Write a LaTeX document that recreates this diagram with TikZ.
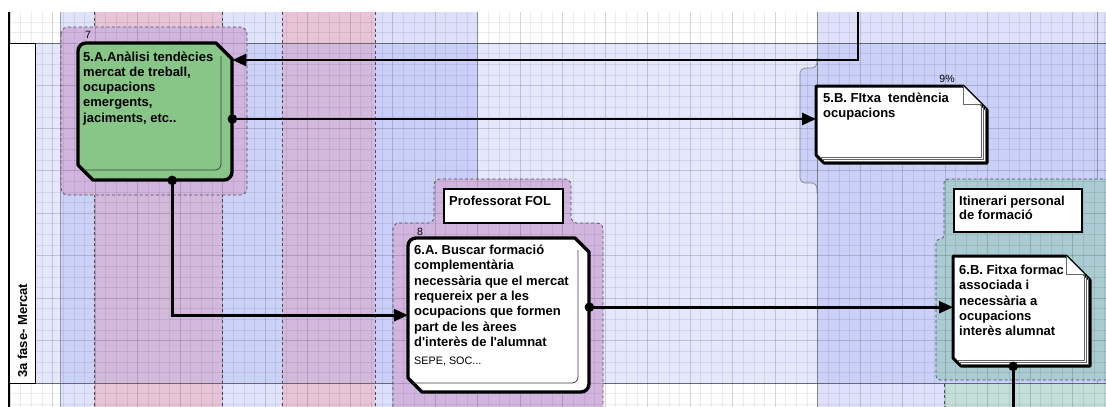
\documentclass[tikz,border=0pt]{standalone}
\usepackage{fontspec}
\setmainfont{Liberation Sans}
\newfontfamily\lsans{Liberation Sans}
\usetikzlibrary{arrows.meta,calc}
\definecolor{colLB}{HTML}{DFE3FB}
\definecolor{colPK}{HTML}{E8C4D8}
\definecolor{colB}{HTML}{DCE0FB}
\definecolor{colBB}{HTML}{DDE1FB}
\definecolor{laneBlue}{HTML}{7F8FF0}
\definecolor{grpPurple}{HTML}{D2B5DF}
\definecolor{grpTeal}{HTML}{A9CBD1}
\definecolor{tealLight}{HTML}{C4DED9}
\definecolor{boxGreen}{HTML}{87C687}
\definecolor{lineGray}{HTML}{7D7D8C}
\definecolor{dashGray}{HTML}{4D4D5A}
\begin{document}
\begin{tikzpicture}[x=1pt,y=-1pt,
  conn/.style={line width=2.6pt, black},
  arr/.style={-{Triangle[length=14pt,width=12pt]}},
  coldash/.style={dashGray, line width=0.7pt, dash pattern=on 3pt off 2.5pt},
  colline/.style={lineGray, line width=0.5pt, opacity=0.7},
  laneline/.style={lineGray, line width=0.8pt},
  grp/.style={dashGray, line width=0.7pt, dash pattern=on 3pt off 2.5pt},
  gminor/.style={black, opacity=0.075, line width=0.4pt},
  gmajor/.style={black, opacity=0.09, line width=0.5pt},
  actbox/.style={line width=3.4pt, black, line join=round},
  innerln/.style={line width=0.8pt, black!75, rounded corners=6pt},
  docbox/.style={line width=3pt, black, fill=white, line join=round},
  pageln/.style={line width=0.6pt, black!60},
  anchorbox/.style={inner sep=0pt, anchor=north west},
  boxtext/.style={anchor=base west, inner sep=0pt, font=\lsans\fontsize{13}{15.3}\selectfont\bfseries},
  smalltext/.style={inner sep=0pt, font=\lsans\fontsize{10.5}{12}\selectfont},
  lblbox/.style={draw=black, line width=2.2pt, fill=white, inner sep=0pt, anchor=north west}
]
\useasboundingbox (0,0) rectangle (1106,407);
% ---------- background columns ----------
\fill[white] (0,0) rectangle (1106,407);
\fill[colLB] (60,12) rectangle (94,407);
\fill[colPK] (94,12) rectangle (222,407);
\fill[colLB] (222,12) rectangle (282,407);
\fill[colPK] (282,12) rectangle (375,407);
\fill[colB] (375,12) rectangle (477,407);
\fill[colBB] (817,12) rectangle (1106,407);
% lane tint
\fill[laneBlue, opacity=0.2] (9,43) rectangle (1106,383);
% bulge of group 5.B
\fill[colBB, rounded corners=5pt] (817,58) -- (817,68) -- (800,68) -- (800,183) -- (817,183) -- (817,193) -- cycle;
\fill[laneBlue, opacity=0.2, rounded corners=5pt] (817,58) -- (817,68) -- (800,68) -- (800,183) -- (817,183) -- (817,193) -- cycle;
\draw[lineGray, line width=0.6pt, rounded corners=5pt] (817,58) -- (817,68) -- (800,68) -- (800,183) -- (817,183) -- (817,193);
% column borders
\foreach \x in {94,222,282,375} \draw[coldash] (\x,12) -- (\x,407);
\foreach \x in {60,477,817,1097} \draw[colline] (\x,12) -- (\x,407);
% lane lines
\draw[laneline] (9,43) -- (1106,43);
\draw[laneline] (9,383) -- (1106,383);
% ---------- groups ----------
\draw[grp, fill=grpPurple, rounded corners=7pt] (61,27) rectangle (247,195);
\draw[grp, fill=grpPurple, rounded corners=6pt] (393,412) -- (393,223) -- (434,223) -- (434,179) -- (571,179) -- (571,223) -- (603,223) -- (603,412);
\draw[grp, fill=grpTeal, rounded corners=4pt] (1112,380) -- (936,380) -- (936,239) -- (944,239) -- (944,179) -- (1112,179);
\fill[tealLight] (944,384) rectangle (1106,407);
\draw[grp] (944,384) -- (944,407);
% ---------- grid ----------
\foreach \i in {0,...,103} \draw[gminor] ({10+10.625*\i},12) -- ({10+10.625*\i},407);
\foreach \j in {2,...,38} \draw[gminor] (9,{0.5+10.625*\j}) -- (1106,{0.5+10.625*\j});
\foreach \i in {0,4,...,100} \draw[gmajor] ({10+10.625*\i},12) -- ({10+10.625*\i},407);
\foreach \j in {4,8,...,36} \draw[gmajor] (9,{0.5+10.625*\j}) -- (1106,{0.5+10.625*\j});
% ---------- lane label ----------
\draw[black, line width=1.4pt] (9,12) -- (9,407);
\node[draw=black, line width=1.4pt, fill=white, minimum width=26pt, minimum height=340pt, anchorbox] (laneBox) at (9,43) {};
\node[rotate=90, anchor=west, inner sep=0pt, font=\lsans\fontsize{13}{15}\selectfont\bfseries] (laneLbl) at (22.5,378) {3a fase- Mercat};
% ---------- activity 5.A ----------
\node[anchorbox, minimum width=154pt, minimum height=137pt] (A5) at (78,43) {};
\draw[actbox, fill=boxGreen] (78,165) -- (78,51) .. controls (78,46.6) and (81.6,43) .. (86,43) -- (216,43) -- (232,59) -- (232,172) .. controls (232,176.4) and (228.4,180) .. (224,180) -- (93,180) -- cycle;
\draw[innerln] (221,56) -- (221,170) -- (83,170);
\node[boxtext] (t5A) at (83,61) {\begin{tabular}[t]{@{}l@{}}5.A.Anàlisi tendècies\\mercat de treball,\\ocupacions\\emergents,\\jaciments, etc..\end{tabular}};
\node[smalltext] (n7) at (88,35) {7};
% ---------- activity 6.A ----------
\node[anchorbox, minimum width=181pt, minimum height=154pt] (A6) at (408,238) {};
\draw[actbox, fill=white] (408,378) -- (408,246) .. controls (408,241.6) and (411.6,238) .. (416,238) -- (575,238) -- (589,252) -- (589,384) .. controls (589,388.4) and (585.4,392) .. (581,392) -- (422,392) -- cycle;
\draw[innerln] (578,250) -- (578,383) -- (413,383);
\node[boxtext] (t6A) at (414,254.5) {\begin{tabular}[t]{@{}l@{}}6.A. Buscar formació\\complementària\\necessària que el mercat\\requereix per a les\\ocupacions que formen\\part de les àrees\\d'interès de l'alumnat\end{tabular}};
\node[anchor=base west, inner sep=0pt, font=\lsans\fontsize{10.8}{13}\selectfont] (t6As) at (414,364) {SEPE, SOC...};
\node[smalltext] (n8) at (420,232) {8};
\node[lblbox, minimum width=119pt, minimum height=34pt] (pfBox) at (443,188) {};
\node[boxtext] (pfTxt) at (449,205) {Professorat FOL};
% ---------- document 5.B ----------
\node[anchorbox, minimum width=171pt, minimum height=77pt] (B5) at (816,86) {};
\draw[docbox] (816,120) -- (816,86) -- (963,86) -- (987,110) -- (987,163) -- (824,163) -- (816,155) -- cycle;
\foreach \d in {0,2,4} \draw[pageln] (981+\d,104+\d) -- (981+\d,157+\d) -- (820+\d,157+\d);
\draw[pageln, fill=white] (963,86) -- (963,104) -- (981,104);
\node[boxtext] (t5B) at (823,102) {\begin{tabular}[t]{@{}l@{}}5.B. FItxa\ \ tendència\\ocupacions\end{tabular}};
\node[smalltext] (n9) at (947,79) {9\%};
% ---------- document 6.B ----------
\node[anchorbox, minimum width=137pt, minimum height=110pt] (B6) at (953,256) {};
\draw[docbox] (953,300) -- (953,256) -- (1066,256) -- (1090,280) -- (1090,366) -- (961,366) -- (953,358) -- cycle;
\foreach \d in {0,2,4} \draw[pageln] (1084+\d,274+\d) -- (1084+\d,360+\d) -- (957+\d,360+\d);
\draw[pageln, fill=white] (1066,256) -- (1066,274) -- (1084,274);
\node[boxtext] (t6B) at (959,274.5) {\begin{tabular}[t]{@{}l@{}}6.B. Fitxa formac\\associada i\\necessària a\\ocupacions\\interès alumnat\end{tabular}};
\node[lblbox, minimum width=128pt, minimum height=43pt] (ipBox) at (953,188) {};
\node[boxtext, font=\lsans\fontsize{13}{14.5}\selectfont\bfseries] (ipTxt) at (959,205) {\begin{tabular}[t]{@{}l@{}}Itinerari personal\\de formació\end{tabular}};
% ---------- connectors ----------
\coordinate (topIn) at (858,12);
\coordinate (botOut) at (1013,407);
\coordinate (pA5in) at ($(A5.north east)+(0,17)$);
\coordinate (pA5out) at ($(A5.north east)+(0,76)$);
\coordinate (pA5down) at ($(A5.south)+(17,0)$);
\coordinate (pA6out) at ($(A6.east)+(0,-8)$);
\coordinate (pB6down) at ($(B6.south)+(-8.5,0)$);
\draw[conn, arr] (topIn) |- (pA5in);
\draw[conn, arr] (pA5out) -- (pA5out -| B5.west);
\draw[conn, arr] (pA5down) |- (A6.west);
\draw[conn, arr] (pA6out) -- (pA6out -| B6.west);
\draw[conn] (pB6down) -- (pB6down |- botOut);
\foreach \p in {pA5out,pA5down,pA6out,pB6down} \fill[black] (\p) circle (4.8);
\end{tikzpicture}
\end{document}
